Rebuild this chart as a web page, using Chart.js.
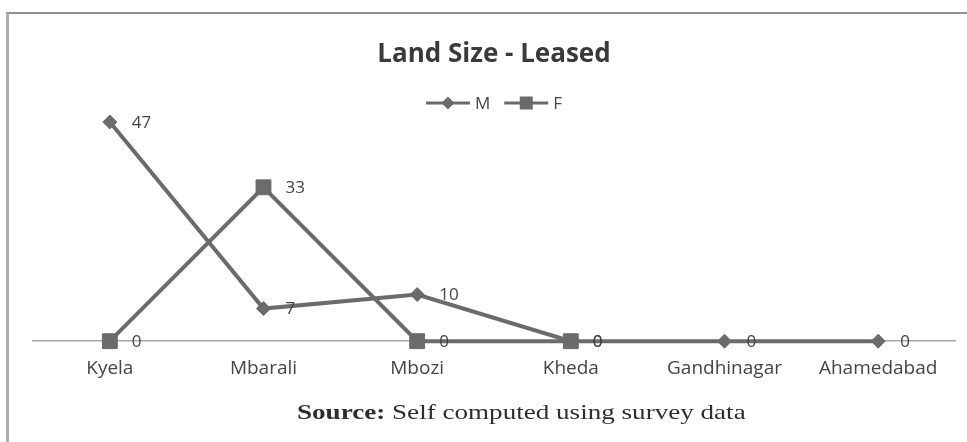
<!DOCTYPE html>
<html>
<head>
<meta charset="utf-8">
<script src="https://cdn.jsdelivr.net/npm/chart.js@4.4.1/dist/chart.umd.min.js"></script>
<style>
  body { margin: 0; background: #fff; }
  #wrap { position: relative; width: 967px; height: 442px; overflow: hidden; }
  #frame {
    position: absolute; left: 6px; top: 12px; width: 1000px; height: 500px;
    border-top: 2px solid #8f8f8f; border-left: 3px solid #adadad;
  }
  #chart { position: absolute; left: 0; top: 0; }
  #source {
    position: absolute; left: 297px; top: 400px; white-space: nowrap;
    font-family: "Liberation Serif", "DejaVu Serif", serif; font-size: 21px; color: #2e2e2e;
    transform: scaleX(1.29); transform-origin: left top;
  }
</style>
</head>
<body>
<div id="wrap">
  <div id="frame"></div>
  <canvas id="chart" width="967" height="442"></canvas>
  <div id="source"><b>Source:</b> Self computed using survey data</div>
</div>
<script>
const categories = ["Kyela", "Mbarali", "Mbozi", "Kheda", "Gandhinagar", "Ahamedabad"];
const maleValues = [47, 7, 10, 0, 0, 0];
const femaleValues = [0, 33, 0, 0, null, null];
const seriesNames = ["M", "F"];

const lineColor = "#6b6b6b";
const textColor = "#444444";
const sansFont = "'Open Sans', 'DejaVu Sans', sans-serif";

document.addEventListener("DOMContentLoaded", function () {
  // value labels to the right of each point
  const valueLabels = {
    id: "valueLabels",
    afterDatasetsDraw(chart) {
      const ctx = chart.ctx;
      ctx.save();
      ctx.font = "17px " + sansFont;
      ctx.fillStyle = textColor;
      ctx.textAlign = "left";
      ctx.textBaseline = "middle";
      chart.data.datasets.forEach((ds, i) => {
        const meta = chart.getDatasetMeta(i);
        meta.data.forEach((pt, j) => {
          const v = ds.data[j];
          if (v === null || v === undefined) return;
          ctx.fillText(String(v), pt.x + 22, pt.y + 1);
        });
      });
      ctx.restore();
    },
  };

  // excel style legend: line sample with marker, then name
  const lineLegend = {
    id: "lineLegend",
    afterDraw(chart) {
      const ctx = chart.ctx;
      const area = chart.chartArea;
      const sampleW = 44;
      const gap = 5;
      const itemGap = 14;
      ctx.save();
      ctx.font = "17px " + sansFont;
      const widths = chart.data.datasets.map(
        (ds) => sampleW + gap + ctx.measureText(ds.label).width
      );
      const total = widths.reduce((a, b) => a + b, 0) + itemGap * (widths.length - 1);
      let x = (area.left + area.right) / 2 - total / 2;
      const y = area.top - 5;
      chart.data.datasets.forEach((ds, i) => {
        ctx.strokeStyle = ds.borderColor;
        ctx.lineWidth = 3;
        ctx.beginPath();
        ctx.moveTo(x, y);
        ctx.lineTo(x + sampleW, y);
        ctx.stroke();
        const cx = x + sampleW / 2;
        ctx.fillStyle = ds.borderColor;
        ctx.beginPath();
        if (ds.pointStyle === "rect") {
          ctx.rect(cx - 6.5, y - 6.5, 13, 13);
        } else {
          ctx.moveTo(cx, y - 6.5);
          ctx.lineTo(cx + 6.5, y);
          ctx.lineTo(cx, y + 6.5);
          ctx.lineTo(cx - 6.5, y);
          ctx.closePath();
        }
        ctx.fill();
        ctx.fillStyle = textColor;
        ctx.textAlign = "left";
        ctx.textBaseline = "middle";
        ctx.fillText(ds.label, x + sampleW + gap, y + 1);
        x += widths[i] + itemGap;
      });
      ctx.restore();
    },
  };

  new Chart(document.getElementById("chart"), {
    type: "line",
    data: {
      labels: categories,
      datasets: [
        {
          label: seriesNames[0],
          data: maleValues,
          order: 1,
          borderColor: lineColor,
          backgroundColor: lineColor,
          borderWidth: 4,
          pointStyle: "rectRot",
          pointRadius: 7,
          pointBorderWidth: 1,
          clip: false,
        },
        {
          label: seriesNames[1],
          data: femaleValues,
          order: 0,
          borderColor: lineColor,
          backgroundColor: lineColor,
          borderWidth: 4,
          pointStyle: "rect",
          pointRadius: 10.5,
          pointBorderWidth: 1,
          clip: false,
        },
      ],
    },
    options: {
      responsive: false,
      animation: false,
      layout: { padding: { left: 33, right: 12, top: 39, bottom: 46 } },
      scales: {
        x: {
          offset: true,
          grid: { display: false, drawTicks: false },
          border: { display: true, color: "#a8a8a8", width: 1.5 },
          ticks: {
            padding: 16,
            color: textColor,
            maxRotation: 0,
            autoSkip: false,
            font: { family: sansFont, size: 19 },
          },
        },
        y: { display: false, min: 0, max: 50 },
      },
      plugins: {
        legend: { display: false },
        tooltip: { enabled: false },
        title: {
          display: true,
          text: "Land Size - Leased",
          color: "#3a3a3a",
          font: { family: sansFont, size: 26, weight: "bold" },
          padding: { top: 0, bottom: 37.8 },
        },
      },
    },
    plugins: [valueLabels, lineLegend],
  });
});
</script>
</body>
</html>
